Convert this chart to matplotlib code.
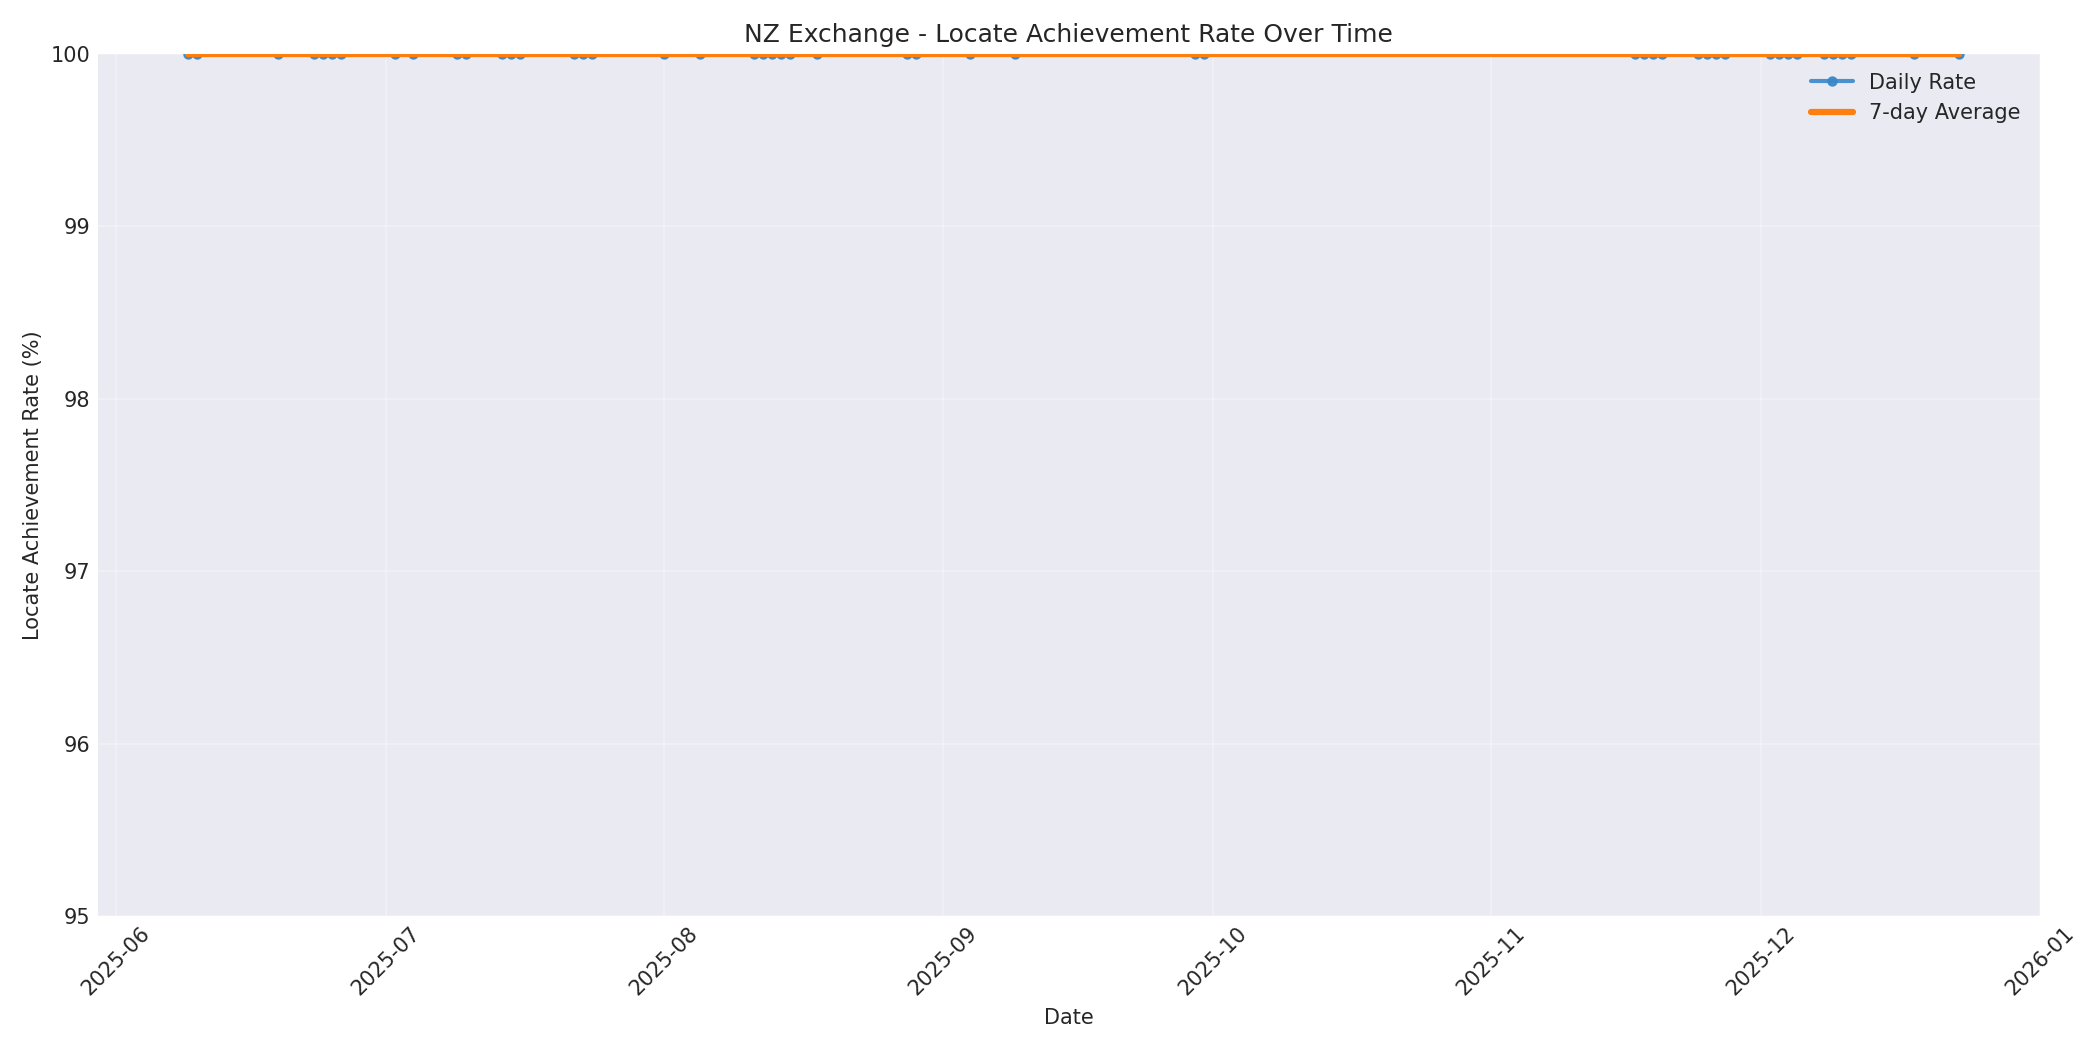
import matplotlib
matplotlib.use("Agg")
import matplotlib.pyplot as plt
import pandas as pd

# trading days with a recorded locate rate (all at 100%)
dates = ["2025-06-09", "2025-06-10", "2025-06-19", "2025-06-23", "2025-06-24",
         "2025-06-25", "2025-06-26", "2025-07-02", "2025-07-04", "2025-07-09",
         "2025-07-10", "2025-07-14", "2025-07-15", "2025-07-16", "2025-07-22",
         "2025-07-23", "2025-07-24", "2025-08-01", "2025-08-05", "2025-08-11",
         "2025-08-12", "2025-08-13", "2025-08-14", "2025-08-15", "2025-08-18",
         "2025-08-28", "2025-08-29", "2025-09-04", "2025-09-09", "2025-09-29",
         "2025-09-30", "2025-11-17", "2025-11-18", "2025-11-19", "2025-11-20",
         "2025-11-24", "2025-11-25", "2025-11-26", "2025-11-27", "2025-12-02",
         "2025-12-03", "2025-12-04", "2025-12-05", "2025-12-08", "2025-12-09",
         "2025-12-10", "2025-12-11", "2025-12-18", "2025-12-23"]
rates = [100.0] * len(dates)

df = pd.DataFrame({"date": pd.to_datetime(dates), "rate": rates})
df["avg7"] = df["rate"].rolling(7, min_periods=1).mean()

plt.style.use("seaborn-v0_8-darkgrid")
plt.rcParams['font.family'] = ['DejaVu Sans']
fig, ax = plt.subplots(figsize=(14, 7), dpi=150)

ax.plot(df["date"], df["rate"], marker="o", markersize=4, linewidth=2,
        color="#3a87c7", alpha=0.9, label="Daily Rate")
ax.plot(df["date"], df["avg7"], linewidth=3, color="#ff7f0e", label="7-day Average")

ax.set_ylim(95, 100)
ax.set_xlim(pd.Timestamp("2025-05-30"), pd.Timestamp("2026-01-01"))
ax.set_title("NZ Exchange - Locate Achievement Rate Over Time", fontsize=12)
ax.set_xlabel("Date")
ax.set_ylabel("Locate Achievement Rate (%)")
ax.grid(True, alpha=0.3)
ax.legend(loc="upper right")
plt.xticks(rotation=45)
plt.tight_layout()
plt.savefig("out.png")
